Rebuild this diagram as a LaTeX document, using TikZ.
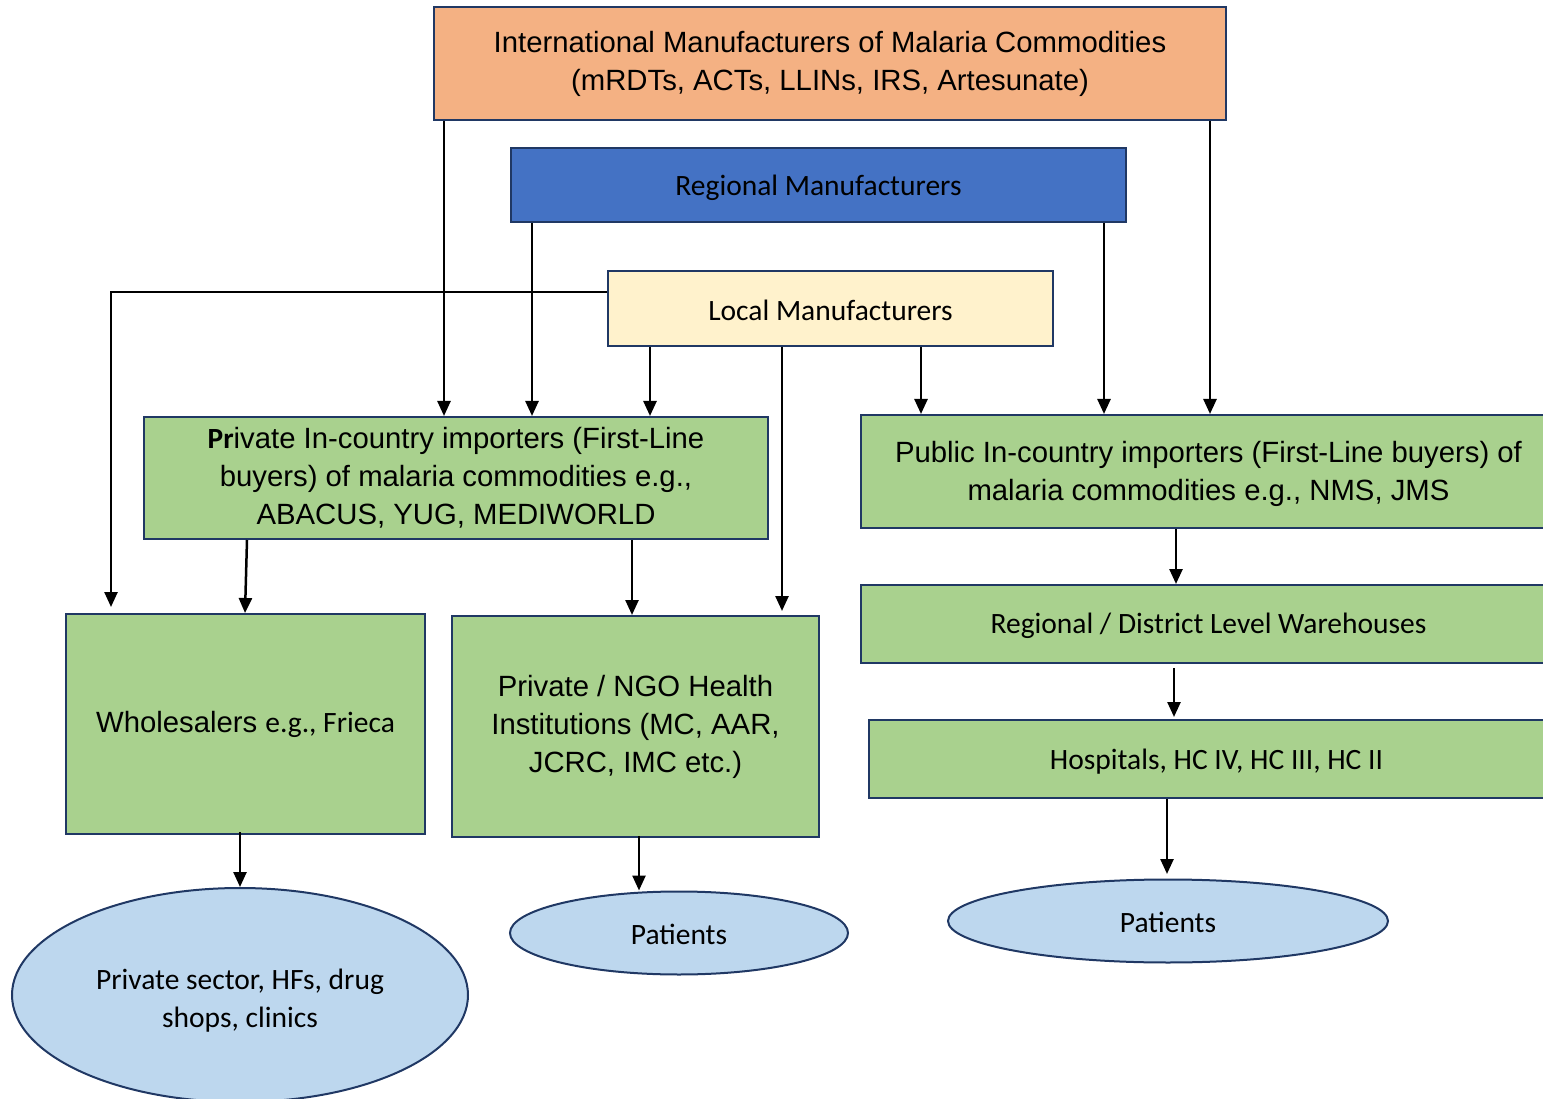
\documentclass[tikz,border=0pt]{standalone}
\usepackage{fontspec}
\setmainfont{Liberation Sans}
\newfontfamily\calfont{Carlito}
\usetikzlibrary{arrows.meta,shapes.geometric}
\definecolor{cOrange}{HTML}{F4B183}
\definecolor{cBlue}{HTML}{4472C4}
\definecolor{cCream}{HTML}{FFF2CC}
\definecolor{cGreen}{HTML}{A9D18E}
\definecolor{cLight}{HTML}{BDD7EE}
\definecolor{cNavy}{HTML}{203864}
\begin{document}
\begin{tikzpicture}[x=1pt,y=-1pt,
  box/.style={draw=cNavy, line width=2pt, rectangle, inner sep=0pt, anchor=north west, align=center},
  oval/.style={draw=cNavy, line width=2pt, ellipse, inner sep=0pt, align=center, fill=cLight, font=\calfont\fontsize{29.5}{38}\selectfont},
  arial/.style={font=\fontsize{29.3}{38}\selectfont},
  cal/.style={font=\calfont\fontsize{29.5}{38}\selectfont},
  arr/.style={line width=2.5pt, -{Triangle[length=15pt,width=13pt]}}]
\useasboundingbox (0,0) rectangle (1543,1099);
\clip (0,0) rectangle (1543,1099);

\node[box, arial, fill=cOrange, minimum width=792pt, minimum height=113pt] (intl) at (433,6)
  {International Manufacturers of Malaria Commodities\\(mRDTs, ACTs, LLINs, IRS, Artesunate)};
\node[box, cal, fill=cBlue, minimum width=615pt, minimum height=74pt] (reg) at (510,147) {\rule{0pt}{26pt}Regional Manufacturers};
\node[box, cal, fill=cCream, minimum width=445pt, minimum height=75pt] (loc) at (607,270) {\rule{0pt}{24pt}Local Manufacturers};
\node[box, arial, fill=cGreen, minimum width=624pt, minimum height=122pt] (priv) at (143,416)
  {{\calfont\bfseries Pr}ivate In-country importers (First-Line\\buyers) of malaria commodities e.g.,\\ABACUS, YUG, MEDIWORLD};
\node[box, arial, fill=cGreen, minimum width=695pt, minimum height=113pt] (pub) at (860,414)
  {\rule{0pt}{26pt}Public In-country importers (First-Line buyers) of\\malaria commodities e.g., NMS, JMS};
\node[box, cal, fill=cGreen, minimum width=695pt, minimum height=78pt] (ware) at (860,584) {\rule{0pt}{24pt}Regional / District Level Warehouses};
\node[box, cal, fill=cGreen, minimum width=695pt, minimum height=78pt] (hosp) at (868,719) {\rule{0pt}{26pt}Hospitals, HC IV, HC III, HC II};
\node[box, arial, fill=cGreen, minimum width=359pt, minimum height=220pt] (whole) at (65,613)
  {Wholesalers {\calfont\fontsize{29.5}{38}\selectfont e.g., Frieca}};
\node[box, arial, fill=cGreen, minimum width=367pt, minimum height=221pt] (ngo) at (451,615)
  {Private / NGO Health\\Institutions (MC, AAR,\\JCRC, IMC etc.)};
\node[oval, minimum width=456pt, minimum height=214pt] (sect) at (240,995) {\rule{0pt}{32pt}Private sector, HFs, drug\\shops, clinics};
\node[oval, minimum width=338pt, minimum height=83pt] (pat1) at (679,933) {\rule{0pt}{24pt}Patients};
\node[oval, minimum width=440pt, minimum height=83pt] (pat2) at (1168,921) {\rule{0pt}{24pt}Patients};

\coordinate (wtip) at (111,607);

% international
\draw[arr] (444,0 |- intl.south) -- (444,0 |- priv.north);
\draw[arr] (1210,0 |- intl.south) -- (1210,0 |- pub.north);
% regional
\draw[arr] (532,0 |- reg.south) -- (532,0 |- priv.north);
\draw[arr] (1104,0 |- reg.south) -- (1104,0 |- pub.north);
% local
\draw[arr] (loc.west |- 0,292) -- (111,292) -- (wtip);
\draw[arr] (650,0 |- loc.south) -- (650,0 |- priv.north);
\draw[arr] (782,0 |- loc.south) -- ([yshift=4pt]782,0 |- ngo.north);
\draw[arr] (921,0 |- loc.south) -- (921,0 |- pub.north);
% private importers
\draw[arr] (247,0 |- priv.south) -- (245,0 |- whole.north);
\draw[arr] (632,0 |- priv.south) -- (632,0 |- ngo.north);
% public chain
\draw[arr] (1176,0 |- pub.south) -- (1176,0 |- ware.north);
\draw[arr] ([yshift=-4pt]1174,0 |- ware.south) -- ([yshift=2pt]1174,0 |- hosp.north);
\draw[arr] (1167,0 |- hosp.south) -- (1167,874);
% lower
\draw[arr] ([yshift=3pt]240,0 |- whole.south) -- (sect.north);
\draw[arr] ([yshift=2pt]639,0 |- ngo.south) -- (639,0 |- pat1.north);
\end{tikzpicture}
\end{document}
